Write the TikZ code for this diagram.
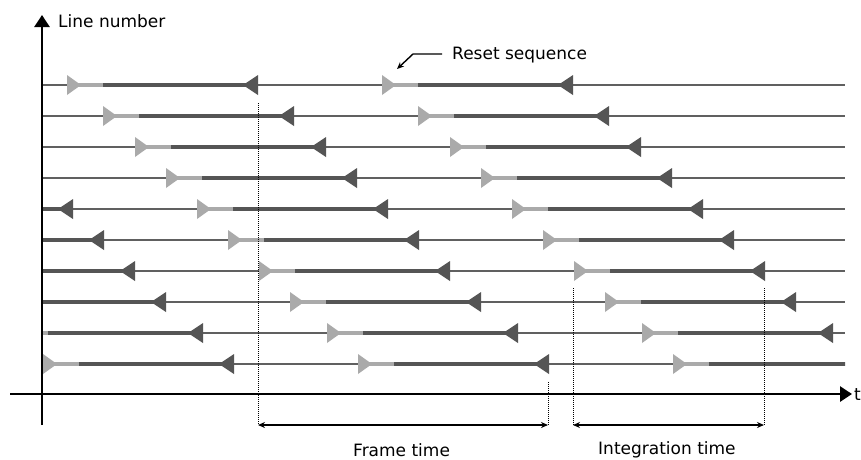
\documentclass[tikz,border=0pt]{standalone}
\usepackage{fontspec}
\setmainfont{DejaVu Sans}
\usetikzlibrary{arrows.meta}
\definecolor{lightfill}{HTML}{AAAAAA}
\definecolor{darkfill}{HTML}{555555}
\definecolor{rowline}{HTML}{606060}
\tikzset{
  rowthin/.style={draw=rowline, line width=1.3pt},
  lightbar/.style={draw=lightfill, line width=4.5pt, line cap=butt},
  darkbar/.style={draw=darkfill, line width=4.5pt, line cap=butt},
  axisline/.style={draw=black, line width=2.8pt, -{Triangle[length=12pt,width=15pt]}},
  dotline/.style={draw=black, line width=1pt, dash pattern=on 1pt off 1pt},
  spanarrow/.style={draw=black, line width=1.4pt, {Stealth[length=7pt,width=6pt]}-{Stealth[length=7pt,width=6pt]}},
  lbl/.style={inner sep=0pt, anchor=base west, font=\fontsize{17}{20}\selectfont}
}
\begin{document}
\begin{tikzpicture}[x=1pt,y=-1pt]
\useasboundingbox[fill=white] (0,0) rectangle (861,459);
% rows
\foreach \yy/\ss in {85/67,116/103,147/135,178/166,209/197,240/228,271/259,302/290,333/327,364/358} {
  \begin{scope}
    \clip (42,0) rectangle (845,459);
    \draw[rowthin] (42,\yy) -- (845,\yy);
    \foreach \kk in {-315,0,315} {
      \pgfmathsetmacro\aa{\ss+\kk}
      \draw[lightbar] (\aa+10,\yy) -- (\aa+37,\yy);
      \draw[darkbar] (\aa+36,\yy) -- (\aa+180,\yy);
      \fill[lightfill] (\aa,\yy-10) -- (\aa+14,\yy) -- (\aa,\yy+10) -- cycle;
      \fill[darkfill] (\aa+191,\yy-10) -- (\aa+176,\yy) -- (\aa+191,\yy+10) -- cycle;
    }
  \end{scope}
}
% axes
\coordinate (yb) at (42,425);
\coordinate (yt) at (42,15);
\coordinate (xl) at (10,394);
\coordinate (xr) at (852,394);
\draw[axisline] (yb) -- (yt);
\draw[axisline] (xl) -- (xr);
\node[lbl] (ylab) at (58,27) {Line number};
\node[lbl] (tlab) at (854,400) {t};
% frame time markers
\coordinate (f1t) at (258,103);
\coordinate (f1b) at (258,425);
\coordinate (f2t) at (548,382);
\coordinate (f2b) at (548,425);
\coordinate (i1t) at (573,288);
\coordinate (i1b) at (573,425);
\coordinate (i2t) at (764,288);
\coordinate (i2b) at (764,425);
\draw[dotline] (f1t) -- (f1b);
\draw[dotline] (f2t) -- (f2b);
\draw[dotline] (i1t) -- (i1b);
\draw[dotline] (i2t) -- (i2b);
\draw[spanarrow] (f1b) -- (f2b);
\draw[spanarrow] (i1b) -- (i2b);
\node[lbl] (ftime) at (353,456) {Frame time};
\node[lbl] (itime) at (598,454) {Integration time};
% reset sequence annotation
\node[lbl] (reset) at (452,59) {Reset sequence};
\coordinate (r1) at (442,54);
\coordinate (r2) at (413,54);
\coordinate (r3) at (397,69);
\draw[black, line width=1.4pt, -{Stealth[length=7pt,width=6pt]}] (r1) -- (r2) -- (r3);
\end{tikzpicture}
\end{document}
